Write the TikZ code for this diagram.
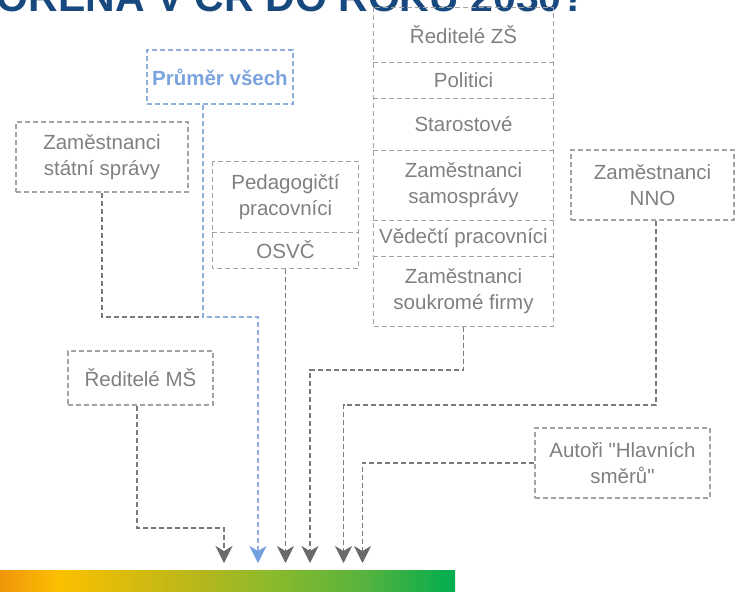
\documentclass[tikz,border=0pt]{standalone}
\usepackage{fontspec}
\setmainfont{Liberation Sans}[Ligatures=TeXOff]
\usetikzlibrary{arrows.meta}
\definecolor{boxgray}{HTML}{A3A3A3}
\definecolor{txtgray}{HTML}{808080}
\definecolor{linegray}{HTML}{7A7A7A}
\definecolor{headgray}{HTML}{6A6A6A}
\definecolor{avgblue}{HTML}{7BA3DE}
\definecolor{avgline}{HTML}{8EAEE0}
\definecolor{avghead}{HTML}{74A0E0}
\definecolor{titleblue}{HTML}{17497F}
\definecolor{c0}{HTML}{F0950A}
\definecolor{c1}{HTML}{FBC000}
\definecolor{c2}{HTML}{B5B71C}
\definecolor{c3}{HTML}{8BBA2C}
\definecolor{c4}{HTML}{5AB33C}
\definecolor{c5}{HTML}{00AD50}
\pgfdeclarehorizontalshading{barshade}{100bp}{color(0bp)=(c0); color(25bp)=(c0); color(31.6bp)=(c1); color(47bp)=(c2); color(54.7bp)=(c3); color(64.6bp)=(c4); color(75bp)=(c5); color(100bp)=(c5)}
\begin{document}
\begin{tikzpicture}[x=1pt,y=-1pt,
  boxline/.style={draw=boxgray, line width=1.2pt, dash pattern=on 5pt off 3pt},
  box/.style={boxline, text=txtgray, font=\fontsize{20.5}{26}\selectfont, align=center, inner sep=0pt},
  stackbox/.style={box, draw=none},
  conn/.style={draw=linegray, line width=1.3pt, dash pattern=on 5pt off 3pt},
  arr/.style={conn, -{Stealth[length=17pt,width=17pt,inset=5pt,color=headgray]}},
  avgconn/.style={draw=avgline, line width=1.3pt, dash pattern=on 5pt off 3pt,
    -{Stealth[length=17pt,width=17pt,inset=5pt,color=avghead]}}]
\useasboundingbox (0,0) rectangle (735,591);
\clip (0,0) rectangle (735,591);
% title (cut off at top)
\node[anchor=base east, text=titleblue, inner sep=0pt,
  font=\fontsize{41}{41}\selectfont\bfseries] (title) at (587,12) {VYTVOŘENA V ČR DO ROKU 2030?};
% bar
\shade[shading=barshade] (0,570.5) rectangle (455,592);
% boxes
\node[box, minimum width=146pt, minimum height=54pt, draw=avgline, text=avgblue,
  font=\fontsize{20.5}{26}\selectfont\bfseries] (avg) at (220,77) {Průměr všech};
\node[box, minimum width=172pt, minimum height=70pt] (statni) at (102,157) {Zaměstnanci\\státní správy};
\node[stackbox, minimum width=145pt, minimum height=70pt] (ped) at (285.5,197) {Pedagogičtí\\pracovníci};
\node[stackbox, minimum width=145pt, minimum height=36pt] (osvc) at (285.5,250) {OSVČ};
\node[stackbox, minimum width=179pt, minimum height=54pt] (zs) at (463.5,35) {Ředitelé ZŠ};
\node[stackbox, minimum width=179pt, minimum height=36pt] (pol) at (463.5,80) {Politici};
\node[stackbox, minimum width=179pt, minimum height=52pt] (star) at (463.5,124) {Starostové};
\node[stackbox, minimum width=179pt, minimum height=70pt] (samo) at (463.5,185) {Zaměstnanci\\samosprávy};
\node[stackbox, minimum width=179pt, minimum height=36pt] (ved) at (463.5,238) {Vědečtí pracovníci};
\node[stackbox, minimum width=179pt, minimum height=70pt] (firmy) at (463.5,291) {Zaměstnanci\\soukromé firmy};
\node[box, minimum width=163pt, minimum height=70pt] (nno) at (652.5,185) {Zaměstnanci\\NNO};
\node[box, minimum width=145pt, minimum height=54pt] (ms) at (140.5,378) {Ředitelé MŠ};
\node[box, minimum width=175pt, minimum height=70pt] (aut) at (622.5,463) {Autoři "Hlavních\\směrů"};
% stacked outlines
\draw[boxline] (ped.north west) rectangle (osvc.south east);
\draw[boxline] (ped.south west) -- (ped.south east);
\draw[boxline] (zs.north west) rectangle (firmy.south east);
\draw[boxline] (zs.south west) -- (zs.south east);
\draw[boxline] (pol.south west) -- (pol.south east);
\draw[boxline] (star.south west) -- (star.south east);
\draw[boxline] (samo.south west) -- (samo.south east);
\draw[boxline] (ved.south west) -- (ved.south east);
% coordinates
\coordinate (t1) at (224,563);
\coordinate (b1) at (224,528);
\coordinate (j2) at (203,317);
\coordinate (b2) at (258,317);
\coordinate (t2) at (258,563);
\coordinate (t3) at (285.5,563);
\coordinate (b4) at (310,370);
\coordinate (t4) at (310,563);
\coordinate (b5) at (343.5,405);
\coordinate (t5) at (343.5,563);
\coordinate (t6) at (362.5,563);
% connectors
\draw[arr] ([xshift=-3.5pt]ms.south) |- (b1) -- (t1);
\draw[conn] (statni.south) |- (j2);
\draw[avgconn] ([xshift=-17pt]avg.south) |- (b2) -- (t2);
\draw[arr] (osvc.south) -- (t3);
\draw[arr] (firmy.south) |- (b4) -- (t4);
\draw[arr] ([xshift=3.5pt]nno.south) |- (b5) -- (t5);
\draw[arr] (aut.west) -| (t6);
\end{tikzpicture}
\end{document}
